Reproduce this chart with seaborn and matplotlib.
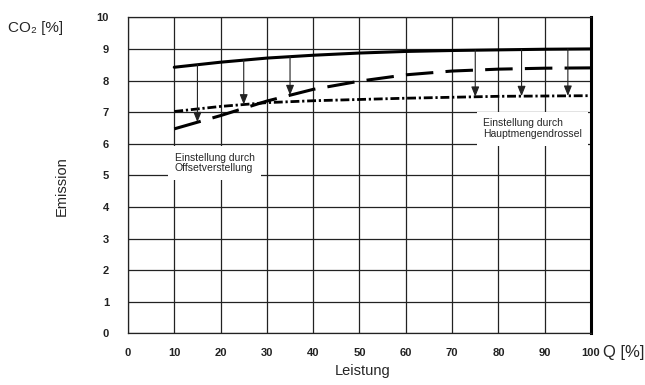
import numpy as np
import pandas as pd
import matplotlib.pyplot as plt
import seaborn as sns

# Leistung Q [%] and CO2 emission [%]
leistung = [10, 20, 30, 40, 50, 60, 70, 80, 90, 100]
co2_ausgang = [8.42, 8.58, 8.71, 8.80, 8.87, 8.92, 8.95, 8.97, 8.99, 9.00]
co2_offset = [6.47, 6.89, 7.35, 7.72, 7.98, 8.18, 8.30, 8.36, 8.39, 8.40]
co2_drossel = [7.02, 7.18, 7.30, 7.36, 7.40, 7.44, 7.47, 7.50, 7.51, 7.52]

# arrows: position on the Leistung axis and which curve they point to
pfeil_x = [15, 25, 35, 75, 85, 95]
pfeil_ziel = ["offset", "drossel", "offset", "drossel", "drossel", "drossel"]

x_ticks = list(range(0, 101, 10))
y_ticks = list(range(0, 11))


def plot_emission(output_file = "out.png"):
    sns.set_theme(style = "white")
    plt.rcParams["font.family"] = ["Liberation Sans", "DejaVu Sans"]

    fig = plt.figure(figsize = (6.45, 3.85), dpi = 100)
    ax = fig.add_axes([0.1984, 0.1343, 0.7179, 0.8207])

    data = pd.DataFrame({
        "Leistung": leistung,
        "ausgang": co2_ausgang,
        "offset": co2_offset,
        "drossel": co2_drossel,
    })

    sns.lineplot(data = data, x = "Leistung", y = "ausgang", ax = ax,
                 color = "black", linewidth = 2.2, zorder = 4)
    sns.lineplot(data = data, x = "Leistung", y = "offset", ax = ax,
                 color = "black", linewidth = 2.2, linestyle = (0, (9, 4)), zorder = 4)
    sns.lineplot(data = data, x = "Leistung", y = "drossel", ax = ax,
                 color = "black", linewidth = 2.0, linestyle = (0, (3.2, 1.0, 0.8, 1.0)), zorder = 4)

    # Arrows from the base curve down to the adjusted curve
    for xp, ziel in zip(pfeil_x, pfeil_ziel):
        y_start = np.interp(xp, leistung, co2_ausgang)
        y_end = np.interp(xp, leistung, data[ziel])
        ax.annotate(
            "", xy = (xp, y_end), xytext = (xp, y_start),
            arrowprops = dict(arrowstyle = "-|>,head_length=0.5,head_width=0.2",
                              color = "#222222", lw = 0.8, shrinkA = 0, shrinkB = 0),
            zorder = 5
        )

    box = dict(boxstyle = "square,pad=0.6", facecolor = "white", edgecolor = "none")
    ax.text(10.1, 5.39, "Einstellung durch\nOffsetverstellung", fontsize = 7.5,
            ha = "left", va = "center", linespacing = 1.1, bbox = box, zorder = 6)
    ax.text(76.7, 6.47, "Einstellung durch\nHauptmengendrossel", fontsize = 7.5,
            ha = "left", va = "center", linespacing = 1.1, bbox = box, zorder = 6)

    ax.set_xlim(0, 100)
    ax.set_ylim(0, 10)
    ax.set_xticks(x_ticks)
    ax.set_yticks(y_ticks)
    ax.set_xticklabels([str(v) for v in x_ticks], fontsize = 8, fontweight = "bold")
    ax.set_yticklabels([str(v) for v in y_ticks], fontsize = 8, fontweight = "bold")
    ax.tick_params(axis = "y", direction = "out", length = 8.4, width = 0.9,
                   color = "#222222", pad = 5.3, labelcolor = "#222222")
    ax.tick_params(axis = "x", direction = "out", length = 2, width = 0.9,
                   color = "#222222", pad = 8.5, labelcolor = "#222222")
    ax.set_xlabel("")
    ax.set_ylabel("")

    ax.grid(True, color = "#222222", linewidth = 0.9)
    ax.set_axisbelow(True)
    for side in ["left", "top", "bottom"]:
        ax.spines[side].set_color("#222222")
        ax.spines[side].set_linewidth(0.9)
    ax.spines["right"].set_color("black")
    ax.spines["right"].set_linewidth(2.2)

    fig.text(8 / 645, 1 - 28 / 385, "CO\u2082 [%]", fontsize = 11, ha = "left", va = "center")
    fig.text(62 / 645, 1 - 186 / 385, "Emission", fontsize = 10.5, rotation = 90,
             ha = "center", va = "center")
    fig.text(363 / 645, 1 - 371 / 385, "Leistung", fontsize = 10.5, ha = "center", va = "center")
    fig.text(603 / 645, 1 - 352 / 385, "Q [%]", fontsize = 12, ha = "left", va = "center")

    fig.savefig(output_file, dpi = 100)
    plt.close(fig)


if __name__ == "__main__":
    plot_emission()
